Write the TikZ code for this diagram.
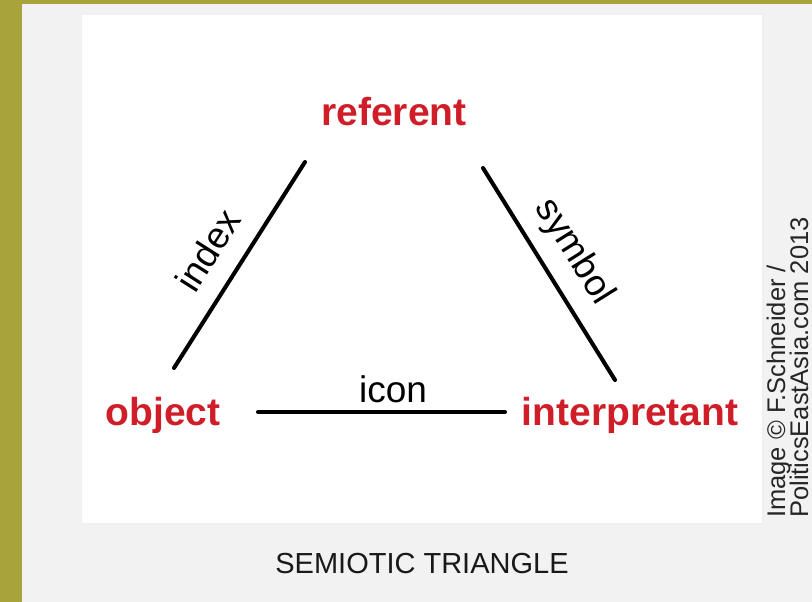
\documentclass[tikz,border=0pt]{standalone}
\usepackage{fontspec}
\setmainfont{Liberation Sans}
\definecolor{bordercol}{RGB}{168,163,58}
\definecolor{bggray}{RGB}{242,242,242}
\definecolor{labred}{RGB}{208,30,40}
\begin{document}
\begin{tikzpicture}[x=1pt,y=-1pt,
  lbl/.style={text=labred, font=\fontsize{39}{39}\selectfont\bfseries, inner sep=0pt, anchor=base},
  edgelbl/.style={font=\fontsize{37}{37}\selectfont, inner sep=0pt},
  link/.style={line width=4pt, black, line cap=round},
  linkshadow/.style={line width=4pt, black!18, line cap=round},
  credit/.style={font=\fontsize{25.5}{25.5}\selectfont, inner sep=0pt, anchor=base west, rotate=90, text=black!85}]
\useasboundingbox (0,0) rectangle (812,602);
\fill[bordercol] (0,0) rectangle (812,602);
\fill[bggray] (22,4) rectangle (812,602);
\draw[black!6, line width=3pt] (82,15) rectangle (762,523);
\fill[white] (82,15) rectangle (762,523);
% labels
\node[lbl] (ref) at (394,125) {referent};
\node[lbl] (obj) at (163,425) {object};
\node[lbl] (int) at (630,425) {interpretant};
% line ends
\coordinate (a1) at (305,162);
\coordinate (a2) at (174,368);
\coordinate (b1) at (483,168);
\coordinate (b2) at (615,380);
\coordinate (c1) at (258,412);
\coordinate (c2) at (505,412);
\begin{scope}[shift={(2,2)}]
\draw[linkshadow] (a2) -- (a1);
\draw[linkshadow] (b1) -- (b2);
\draw[linkshadow] (c1) -- (c2);
\end{scope}
\draw[link] (a2) -- (a1);
\draw[link] (b1) -- (b2);
\draw[link] (c1) -- (c2);
% connector labels
\node[edgelbl, rotate=57.5] (idx) at (208,250) {index};
\node[edgelbl, rotate=-58] (sym) at (574,252) {symbol};
\node[edgelbl, anchor=base] (icn) at (393,402) {icon};
% caption and credit
\node[font=\fontsize{29}{29}\selectfont, inner sep=0pt, anchor=base, text=black!90] (cap) at (422,573) {SEMIOTIC TRIANGLE};
\node[credit] (cr1) at (785,518) {Image © F.Schneider /};
\node[credit] (cr2) at (808,518) {PoliticsEastAsia.com 2013};
\end{tikzpicture}
\end{document}
